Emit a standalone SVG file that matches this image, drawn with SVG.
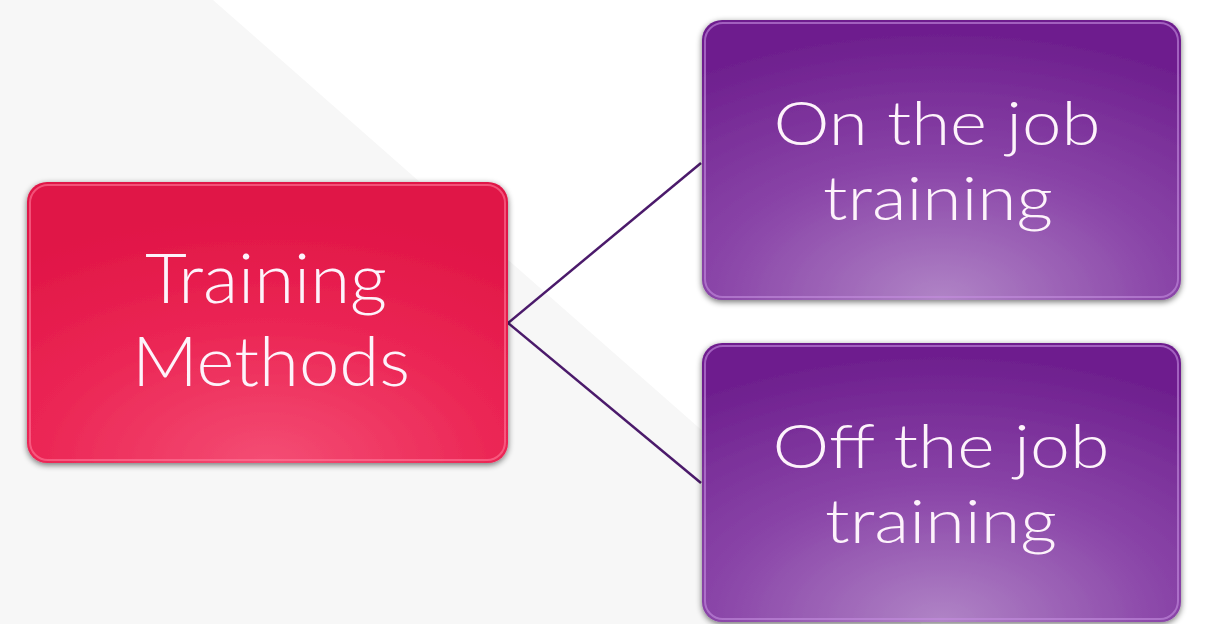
<svg xmlns="http://www.w3.org/2000/svg" width="1206" height="624" viewBox="0 0 1206 624">
  <defs>
    <radialGradient id="redFill" cx="0.5" cy="1" r="0.9" fx="0.5" fy="1">
      <stop offset="0" stop-color="#f44d74"/>
      <stop offset="0.55" stop-color="#eb2554"/>
      <stop offset="1" stop-color="#e01546"/>
    </radialGradient>
    <radialGradient id="purpleFill" cx="0.5" cy="1" r="0.95" fx="0.5" fy="1">
      <stop offset="0" stop-color="#b084c6"/>
      <stop offset="0.5" stop-color="#8a45a8"/>
      <stop offset="1" stop-color="#6e1f8e"/>
    </radialGradient>
    <filter id="shadow" x="-10%" y="-10%" width="120%" height="125%">
      <feGaussianBlur in="SourceAlpha" stdDeviation="3"/>
      <feOffset dx="0" dy="2" result="b"/>
      <feComponentTransfer><feFuncA type="linear" slope="0.55"/></feComponentTransfer>
      <feMerge><feMergeNode/><feMergeNode in="SourceGraphic"/></feMerge>
    </filter>
  </defs>
  <style>
    .lbl { font-family: Lato, "Liberation Sans", sans-serif; font-weight: 300; fill: #fdf3fb; text-anchor: middle; }
    .conn { stroke: #4b1a6b; stroke-width: 2.5; fill: none; }
    .hlR { fill: none; stroke: #ff7a9a; stroke-width: 2; opacity: 0.6; }
    .hlP { fill: none; stroke: #c58ee0; stroke-width: 2; opacity: 0.6; }
  </style>
  <rect width="1206" height="624" fill="#ffffff"/>
  <polygon points="0,0 213,0 922,624 0,624" fill="#f7f7f7"/>

  <g id="connectors">
    <line class="conn" x1="508" y1="323" x2="701" y2="163"/>
    <line class="conn" x1="508" y1="323" x2="701" y2="483"/>
  </g>

  <g id="node-training-methods">
    <rect x="27" y="182" width="481" height="281" rx="20" fill="url(#redFill)" filter="url(#shadow)"/>
    <rect x="30" y="185" width="475" height="275" rx="18" class="hlR"/>
    <text class="lbl" x="266" y="303" font-size="68" textLength="242" lengthAdjust="spacingAndGlyphs">Training</text>
    <text class="lbl" x="271" y="386" font-size="68" textLength="278" lengthAdjust="spacingAndGlyphs">Methods</text>
  </g>

  <g id="node-on-the-job">
    <rect x="702" y="20" width="479" height="280" rx="20" fill="url(#purpleFill)" filter="url(#shadow)"/>
    <rect x="705" y="23" width="473" height="274" rx="18" class="hlP"/>
    <text class="lbl" x="937" y="145" font-size="62" textLength="327" lengthAdjust="spacingAndGlyphs">On the job</text>
    <text class="lbl" x="938" y="220" font-size="62" textLength="230" lengthAdjust="spacingAndGlyphs">training</text>
  </g>

  <g id="node-off-the-job">
    <rect x="702" y="343" width="479" height="279" rx="20" fill="url(#purpleFill)" filter="url(#shadow)"/>
    <rect x="705" y="346" width="473" height="273" rx="18" class="hlP"/>
    <text class="lbl" x="941" y="468" font-size="62" textLength="337" lengthAdjust="spacingAndGlyphs">Off the job</text>
    <text class="lbl" x="941" y="543" font-size="62" textLength="232" lengthAdjust="spacingAndGlyphs">training</text>
  </g>
</svg>
